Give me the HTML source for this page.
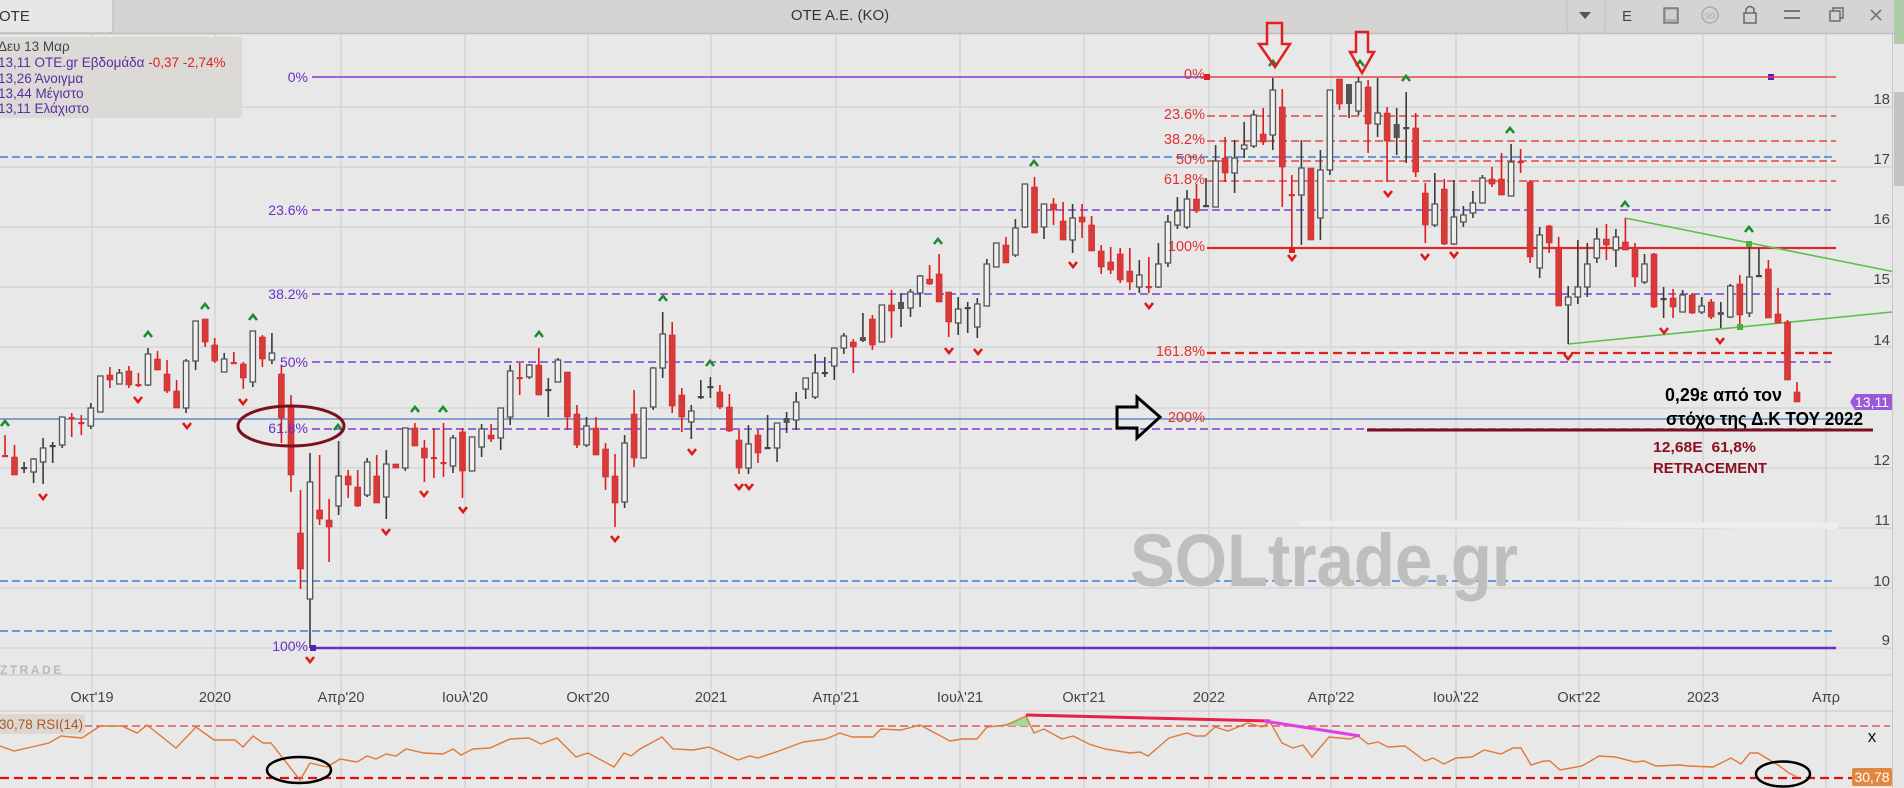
<!DOCTYPE html>
<html><head><meta charset="utf-8"><style>
html,body{margin:0;padding:0;background:#e8e8e8;overflow:hidden}
svg{display:block}
text{font-family:"Liberation Sans","Noto Sans CJK JP",sans-serif}
</style></head><body>
<svg width="1904" height="788" viewBox="0 0 1904 788" xmlns="http://www.w3.org/2000/svg">
<rect x="0" y="0" width="1904" height="788" fill="#e8e8e8"/>
<!-- vertical gridlines -->
<g stroke="#d6d6d6" stroke-width="1.5">
<line x1="92" y1="34" x2="92" y2="788"/><line x1="215" y1="34" x2="215" y2="788"/><line x1="341" y1="34" x2="341" y2="788"/><line x1="465" y1="34" x2="465" y2="788"/><line x1="588" y1="34" x2="588" y2="788"/><line x1="711" y1="34" x2="711" y2="788"/><line x1="836" y1="34" x2="836" y2="788"/><line x1="960" y1="34" x2="960" y2="788"/><line x1="1084" y1="34" x2="1084" y2="788"/><line x1="1209" y1="34" x2="1209" y2="788"/><line x1="1331" y1="34" x2="1331" y2="788"/><line x1="1456" y1="34" x2="1456" y2="788"/><line x1="1579" y1="34" x2="1579" y2="788"/><line x1="1703" y1="34" x2="1703" y2="788"/><line x1="1826" y1="34" x2="1826" y2="788"/>
</g>
<g stroke="#d6d6d6" stroke-width="1.5">
<line x1="0" y1="107" x2="1892" y2="107"/><line x1="0" y1="167" x2="1892" y2="167"/><line x1="0" y1="227" x2="1892" y2="227"/><line x1="0" y1="287" x2="1892" y2="287"/><line x1="0" y1="347" x2="1892" y2="347"/><line x1="0" y1="408" x2="1892" y2="408"/><line x1="0" y1="468" x2="1892" y2="468"/><line x1="0" y1="528" x2="1892" y2="528"/><line x1="0" y1="588" x2="1892" y2="588"/><line x1="0" y1="648" x2="1892" y2="648"/>
<line x1="0" y1="675" x2="1892" y2="675" stroke="#d0d0d0"/><line x1="0" y1="711" x2="1892" y2="711" stroke="#d0d0d0"/>
</g>
<!-- blue lines -->
<g stroke="#3f7fd6" stroke-width="1.5" stroke-dasharray="8,4" fill="none">
<line x1="0" y1="157" x2="1836" y2="157"/><line x1="0" y1="581" x2="1836" y2="581"/><line x1="0" y1="631" x2="1836" y2="631"/>
</g>
<line x1="0" y1="419" x2="1862" y2="419" stroke="#4a78b8" stroke-width="1.2"/>
<!-- purple fib -->
<g stroke="#7b3fd6" fill="none">
<line x1="312" y1="77" x2="1207" y2="77" stroke-width="1.6"/>
<g stroke-width="1.6" stroke-dasharray="8,4"><line x1="312" y1="210" x2="1831" y2="210"/><line x1="312" y1="294" x2="1831" y2="294"/><line x1="312" y1="362" x2="1831" y2="362"/><line x1="312" y1="429" x2="1831" y2="429"/></g>
<line x1="312" y1="648" x2="1836" y2="648" stroke-width="2.6" stroke="#6a2ac8"/>
</g>
<rect x="310" y="645" width="6" height="6" fill="#5a1ec0"/>
<rect x="1768" y="74" width="6" height="6" fill="#5a1ec0"/>
<!-- red fib -->
<g stroke="#e34545" fill="none">
<line x1="1207" y1="77" x2="1836" y2="77" stroke-width="1.6"/>
<g stroke-width="1.5" stroke-dasharray="8,4"><line x1="1207" y1="116" x2="1836" y2="116"/><line x1="1207" y1="141" x2="1836" y2="141"/><line x1="1207" y1="161" x2="1836" y2="161"/><line x1="1207" y1="181" x2="1836" y2="181"/></g>
<line x1="1207" y1="248" x2="1836" y2="248" stroke-width="2.2" stroke="#e02828"/>
<line x1="1207" y1="353" x2="1836" y2="353" stroke-width="2.2" stroke="#e02020" stroke-dasharray="9,5"/>
</g>
<rect x="1204" y="74" width="6" height="6" fill="#e02020"/>
<rect x="1289" y="247" width="6" height="6" fill="#e02020"/>
<!-- maroon line -->
<line x1="1367" y1="430" x2="1873" y2="430" stroke="#7a0f1f" stroke-width="3"/>
<!-- white band & watermark -->
<polygon points="1300,521 1500,521 1838,523 1838,529 1500,527 1300,526" fill="#eeeeee"/>
<text x="1130" y="586" font-size="74" font-weight="bold" fill="#bebebe" textLength="388" lengthAdjust="spacingAndGlyphs">SOLtrade.gr</text>
<text x="0" y="674" font-size="12" font-weight="bold" fill="#b9b9b9" letter-spacing="2.5">ZTRADE</text>
<!-- green trend lines -->
<line x1="1625" y1="218" x2="1892" y2="271.4" stroke="#5cbf4c" stroke-width="1.6"/>
<line x1="1568" y1="344" x2="1892" y2="312" stroke="#5cbf4c" stroke-width="1.6"/>
<g id="cd"></g>
<g id="mk"></g>
<rect x="1746" y="241" width="6" height="6" fill="#4caf3c"/>
<rect x="1737" y="324" width="6" height="6" fill="#4caf3c"/>
<!-- fib labels -->
<g font-size="14" fill="#6a30c8" text-anchor="end">
<text x="308" y="82">0%</text><text x="308" y="215">23.6%</text><text x="308" y="299">38.2%</text><text x="308" y="367">50%</text><text x="308" y="433">61.8%</text><text x="308" y="651">100%</text>
</g>
<g font-size="14.5" fill="#e03030" text-anchor="end">
<text x="1205" y="79">0%</text><text x="1205" y="119">23.6%</text><text x="1205" y="144">38.2%</text><text x="1205" y="164">50%</text><text x="1205" y="184">61.8%</text><text x="1205" y="251">100%</text><text x="1205" y="356">161.8%</text><text x="1205" y="422">200%</text>
</g>
<!-- annotations -->
<ellipse cx="291" cy="426" rx="53" ry="20" fill="none" stroke="#7a1020" stroke-width="3"/>
<polygon points="1117,407 1137,407 1137,397 1160,417 1137,438 1137,428 1117,428" fill="none" stroke="#000" stroke-width="3"/>
<text x="1665" y="401" font-size="18" font-weight="bold" fill="#000" textLength="117" lengthAdjust="spacingAndGlyphs">0,29ε από τον</text>
<text x="1666" y="425" font-size="18" font-weight="bold" fill="#000" textLength="197" lengthAdjust="spacingAndGlyphs">στόχο της Δ.Κ ΤΟΥ 2022</text>
<text x="1653" y="452" font-size="15" font-weight="bold" fill="#8b1020" textLength="103" lengthAdjust="spacingAndGlyphs">12,68E&#160; 61,8%</text>
<text x="1653" y="473" font-size="15" font-weight="bold" fill="#8b1020" textLength="114" lengthAdjust="spacingAndGlyphs">RETRACEMENT</text>
<!-- right axis labels -->
<g font-size="15" fill="#444" text-anchor="end">
<text x="1890" y="104">18</text><text x="1890" y="164">17</text><text x="1890" y="224">16</text><text x="1890" y="284">15</text><text x="1890" y="345">14</text><text x="1890" y="465">12</text><text x="1890" y="525">11</text><text x="1890" y="586">10</text><text x="1890" y="645">9</text>
</g>
<path d="M1850,402 L1855,394 L1892,394 L1892,410 L1855,410 Z" fill="#9a5ad8"/>
<text x="1872" y="407" font-size="14" fill="#fff" text-anchor="middle">13,11</text>
<!-- x axis labels -->
<g font-size="14.5" fill="#444" text-anchor="middle">
<text x="92" y="702">Οκτ'19</text><text x="215" y="702">2020</text><text x="341" y="702">Απρ'20</text><text x="465" y="702">Ιουλ'20</text><text x="588" y="702">Οκτ'20</text><text x="711" y="702">2021</text><text x="836" y="702">Απρ'21</text><text x="960" y="702">Ιουλ'21</text><text x="1084" y="702">Οκτ'21</text><text x="1209" y="702">2022</text><text x="1331" y="702">Απρ'22</text><text x="1456" y="702">Ιουλ'22</text><text x="1579" y="702">Οκτ'22</text><text x="1703" y="702">2023</text><text x="1826" y="702">Απρ</text>
</g>
<!-- RSI panel -->
<line x1="0" y1="726" x2="1890" y2="726" stroke="#d84040" stroke-width="1.2" stroke-dasharray="8,4"/>
<line x1="0" y1="778" x2="1852" y2="778" stroke="#e01010" stroke-width="2.2" stroke-dasharray="9,5"/>
<polygon points="1000,726 1026,716 1031,726" fill="#a6d6a0"/>
<polyline fill="none" stroke="#e07a35" stroke-width="1.4" points="0,746 14,751 49,743 61,736 82,738 100,726 122,726 137,733 147,725 176,748 196,727 214,740 235,740 243,747 253,736 263,743 271,743 300,780 310,763 327,767 340,759 357,762 367,756 376,759 386,754 396,756 406,749 424,753 443,754 453,749 461,755 473,749 490,748 510,739 529,738 541,744 557,738 576,757 588,753 614,767 624,753 631,756 640,749 662,737 673,749 693,750 709,747 738,760 750,756 758,758 779,751 803,742 826,739 840,733 852,737 873,737 881,729 901,730 920,725 950,741 962,739 977,739 987,727 1007,725 1026,716 1034,733 1044,729 1062,739 1073,736 1089,744 1105,749 1130,753 1140,752 1148,756 1169,738 1187,733 1195,736 1205,736 1215,727 1228,731 1248,723 1262,727 1270,722 1282,743 1293,748 1303,745 1312,757 1329,737 1350,739 1358,736 1368,744 1378,742 1388,747 1405,746 1425,761 1433,758 1444,764 1456,758 1472,757 1484,750 1501,754 1513,748 1521,748 1531,765 1544,761 1550,761 1560,770 1582,766 1599,756 1615,757 1635,762 1644,761 1656,766 1680,765 1688,766 1713,767 1731,758 1741,764 1750,753 1758,753 1778,765 1789,773 1797,777"/>
<line x1="1026" y1="715" x2="1270" y2="721" stroke="#e8204c" stroke-width="3"/>
<line x1="1264" y1="721" x2="1360" y2="736" stroke="#e040e0" stroke-width="3"/>
<ellipse cx="299" cy="770" rx="32" ry="13" fill="none" stroke="#000" stroke-width="2.5"/>
<ellipse cx="1783" cy="774" rx="27" ry="12.5" fill="none" stroke="#000" stroke-width="2.5"/>
<rect x="-4" y="714" width="89" height="20" rx="3" fill="#dcd7d0"/>
<text x="-1" y="729" font-size="13.5" fill="#b0562a">30,78 RSI(14)</text>
<text x="1872" y="742" font-size="17" fill="#111" text-anchor="middle">x</text>
<rect x="1852" y="768" width="40" height="18" rx="2" fill="#e08840"/>
<text x="1872" y="782" font-size="14" fill="#fff" text-anchor="middle">30,78</text>
<!-- scrollbar -->
<rect x="1892" y="34" width="12" height="754" fill="#e6e6e6"/>
<line x1="1892.5" y1="34" x2="1892.5" y2="788" stroke="#c6c6c6" stroke-width="1"/>
<rect x="1894" y="92" width="10" height="94" fill="#c3c3c3"/>
<!-- header -->
<rect x="0" y="0" width="1904" height="34" fill="#d5d4d2"/>
<line x1="0" y1="33.5" x2="1904" y2="33.5" stroke="#bdbdbd" stroke-width="1.5"/>
<path d="M-2,-1 L113,-1 L113,29 Q113,33 109,33 L-2,33 Z" fill="#e7e7e7" stroke="#b5b5b5" stroke-width="1"/>
<text x="-1" y="21" font-size="15" fill="#333">OTE</text>
<text x="840" y="20" font-size="15" fill="#333" text-anchor="middle">OTE A.E. (KO)</text>
<rect x="1567" y="-3" width="38" height="36" rx="3" fill="#d5d4d2" stroke="#c2c2c2"/>
<path d="M1579,12 L1591,12 L1585,19 Z" fill="#555"/>
<text x="1627" y="21" font-size="15" fill="#444" text-anchor="middle">E</text>
<rect x="1664" y="8" width="14" height="15" fill="#b0b0b0" stroke="#666" stroke-width="1.2"/>
<rect x="1666" y="10" width="10" height="9" fill="#cfcfcf"/>
<circle cx="1710" cy="15" r="8" fill="none" stroke="#aaa" stroke-width="1.5"/>
<text x="1710" y="19" font-size="9" fill="#aaa" text-anchor="middle">99</text>
<rect x="1744" y="13" width="12" height="10" fill="none" stroke="#666" stroke-width="1.5"/>
<path d="M1746,13 L1746,9 Q1750,4 1754,9 L1754,13" fill="none" stroke="#666" stroke-width="1.5"/>
<line x1="1784" y1="11" x2="1800" y2="11" stroke="#777" stroke-width="2"/>
<line x1="1784" y1="18" x2="1800" y2="18" stroke="#777" stroke-width="2"/>
<rect x="1830" y="11" width="10" height="10" fill="none" stroke="#666" stroke-width="1.4"/>
<path d="M1833,11 L1833,8 L1843,8 L1843,18 L1840,18" fill="none" stroke="#666" stroke-width="1.4"/>
<path d="M1871,10 L1881,20 M1881,10 L1871,20" stroke="#777" stroke-width="1.6"/>
<rect x="1894" y="0" width="10" height="44" fill="#aecaa6"/>
<!-- red arrows over header -->
<polygon points="1267,23 1282,23 1282,44 1290,44 1275,67 1259,44 1267,44" fill="none" stroke="#e02020" stroke-width="2.5"/>
<polygon points="1356,32 1368,32 1368,52 1374,52 1362,73 1350,52 1356,52" fill="none" stroke="#e02020" stroke-width="2.5"/>
<!-- tooltip -->
<path d="M-2,37 L238,37 Q242,37 242,41 L242,114 Q242,118 238,118 L-2,118 Z" fill="#dcdad6"/>
<g font-size="13.5">
<text x="-2" y="51" fill="#444">Δευ 13 Μαρ</text>
<text x="-2" y="67" fill="#5b2d9e">13,11 OTE.gr Εβδομάδα <tspan fill="#e02020">-0,37 -2,74%</tspan></text>
<text x="-2" y="83" fill="#5b2d9e">13,26 Άνοιγμα</text>
<text x="-2" y="98" fill="#5b2d9e">13,44 Μέγιστο</text>
<text x="-2" y="113" fill="#5b2d9e">13,11 Ελάχιστο</text>
</g>
</svg>
<script>
var D=[['r',455,457,435,457],['r',457,475,445,475],['d',467,469,462,473],['w',459,472,458,483],['w',448,462,438,484],['d',445,447,442,463],['w',417,445,417,448],['r',417,419,413,437],['r',422,424,415,435],['w',408,426,403,429],
['w',376,412,376,412],['r',375,380,367,388],['w',373,384,369,384],['r',371,385,366,388],['r',384,386,373,387],['w',354,385,348,386],['r',359,370,351,370],['r',374,391,360,393],['r',391,408,380,408],['w',361,408,359,413],
['w',321,361,321,370],['r',319,342,319,347],['r',345,361,338,363],['w',359,372,353,372],['r',362,364,352,364],['r',364,378,362,389],['w',331,382,331,387],['r',337,359,335,367],['w',353,360,333,364],['r',374,418,365,443],
['r',407,475,395,492],['r',533,569,490,589],['w',482,599,453,648],['r',510,519,455,525],['r',520,527,499,562],['w',476,506,441,515],['r',476,485,470,498],['r',487,506,470,507],['w',462,495,458,497],['r',476,503,455,503],
['w',464,497,450,519],['r',464,468,464,468],['w',428,468,428,471],['r',428,446,423,446],['r',448,458,440,482],['r',457,459,428,478],['r',462,464,423,477],['w',438,466,435,473],['r',432,471,428,498],['w',437,471,437,471],
['w',429,447,424,457],['r',435,439,424,442],['w',408,438,408,450],['w',371,417,365,425],['r',377,379,363,395],['w',365,377,364,379],['r',365,395,348,395],['d',389,391,378,417],['w',360,382,358,382],['r',372,417,372,430],
['r',414,445,405,448],['w',426,445,417,447],['r',428,455,417,455],['r',449,477,443,490],['r',476,503,454,527],['w',443,502,435,508],['r',414,458,390,467],['w',408,458,408,458],['w',368,407,367,410],['w',334,368,312,378],
['r',335,406,322,413],['r',395,417,388,432],['w',411,422,405,439],['d',396,398,380,399],['d',386,388,377,398],['r',392,407,385,409],['r',407,431,394,432],['r',440,468,430,474],['w',444,468,425,474],['r',435,453,430,463],
['d',447,449,415,449],['w',423,448,423,462],['d',418,423,412,433],['w',402,420,392,430],['w',378,389,378,399],['w',373,397,354,399],['d',372,374,357,377],['w',348,366,348,380],['w',336,348,333,354],['r',342,347,339,373],
['d',337,341,313,342],['r',319,345,315,350],['w',305,342,305,342],['r',305,311,290,338],['d',302,309,293,327],['w',292,308,289,317],['w',276,293,275,307],['r',279,284,265,285],['r',274,302,254,302],['r',292,322,292,337],
['w',309,323,297,335],['d',307,309,302,333],['w',304,327,298,338],['w',264,306,259,306],['w',243,267,243,267],['r',245,263,237,263],['w',228,255,219,257],['w',184,227,184,228],['r',187,233,177,233],['w',204,227,204,239],
['r',204,210,198,225],['r',221,240,202,240],['w',218,240,204,253],['r',217,222,204,238],['r',225,251,216,251],['r',251,267,245,274],['r',262,270,247,274],['r',254,280,248,283],['r',271,282,248,290],['w',275,287,260,293],
['r',286,288,257,293],['w',264,287,243,288],['w',222,263,215,267],['w',211,225,197,229],['w',199,227,190,229],['r',199,211,184,213],['d',205,207,178,207],['w',161,207,145,207],['r',158,173,137,182],['w',158,173,140,193],
['w',145,149,122,158],['w',115,146,110,148],['r',134,142,108,145],['w',90,135,78,150],['r',107,167,89,207],['r',194,196,175,250],['w',168,195,140,245],['r',168,240,168,240],['w',170,218,150,240],['w',90,170,90,175],
['r',79,104,79,110],['d',84,104,84,118],['w',82,111,77,115],['r',87,124,80,153],['w',113,124,78,137],['r',113,141,107,182],['d',124,138,108,155],['d',127,129,92,163],['r',128,172,113,177],['r',193,225,183,243],
['w',204,225,173,227],['r',189,244,179,245],['w',217,244,180,245],['w',215,222,206,227],['w',203,213,191,218],['w',178,203,175,203],['r',179,184,167,187],['r',179,195,153,195],['w',162,196,144,196],['r',161,163,149,173],
['r',182,257,180,263],['w',235,268,227,278],['r',226,243,225,253],['r',248,306,237,306],['w',297,305,286,344],['w',287,297,240,304],['w',264,287,243,297],['w',239,258,228,263],['r',239,245,224,260],['w',237,250,229,267],
['r',242,250,218,250],['r',248,277,243,287],['w',264,282,254,284],['r',254,307,253,308],['d',298,300,287,318],['r',298,307,289,318],['w',295,312,290,312],['r',295,313,293,314],['w',306,312,297,314],['r',302,317,299,319],
['d',312,315,302,328],['w',286,317,284,318],['r',284,315,275,327],['w',277,313,244,317],['d',275,277,248,277],['r',269,318,260,318],['r',314,323,288,323],['r',322,380,320,380],['r',392,402,382,402]];
var s='';
for(var i=0;i<D.length;i++){var c=D[i],x=(5+i*9.532).toFixed(1),t=c[0];
var wc=t==='r'?'#e01a1a':'#3a3a3a';
s+='<line x1="'+x+'" y1="'+c[3]+'" x2="'+x+'" y2="'+c[4]+'" stroke="'+wc+'" stroke-width="1.6"/>';
var h=c[2]-c[1],xl=(x-3).toFixed(1);
if(h<3){s+='<rect x="'+xl+'" y="'+c[1]+'" width="6" height="2.2" fill="'+(t==='r'?'#d83030':'#444')+'"/>';}
else if(t==='r'){s+='<rect x="'+xl+'" y="'+c[1]+'" width="6" height="'+h+'" fill="#d83a3a" stroke="#d02828" stroke-width="0.6"/>';}
else if(t==='w'){s+='<rect x="'+(x-2.7).toFixed(1)+'" y="'+c[1]+'" width="5.4" height="'+h+'" fill="#f0f0f0" stroke="#555" stroke-width="1.3"/>';}
else{s+='<rect x="'+xl+'" y="'+c[1]+'" width="6" height="'+h+'" fill="#555"/>';}}
document.getElementById('cd').innerHTML=s;
var G=[[5,423],[148,334],[205,306],[253,317],[338,427],[415,409],[443,409],[539,334],[663,298],[710,363],[938,241],[1034,163],[1273,63],[1360,63],[1406,78],[1510,130],[1625,204],[1749,229]];
var R=[[43,497],[138,400],[187,426],[243,402],[310,660],[386,532],[424,494],[463,510],[615,539],[692,452],[739,487],[749,487],[949,351],[978,352],[1073,265],[1149,306],[1292,258],[1388,194],[1425,257],[1454,255],[1568,357],[1664,331],[1720,341]];
var m='';
G.forEach(function(p){m+='<path d="M'+(p[0]-4)+','+(p[1]+3)+' L'+p[0]+','+(p[1]-2)+' L'+(p[0]+4)+','+(p[1]+3)+'" fill="none" stroke="#1b8c2c" stroke-width="2.6"/>';});
R.forEach(function(p){m+='<path d="M'+(p[0]-4)+','+(p[1]-3)+' L'+p[0]+','+(p[1]+2)+' L'+(p[0]+4)+','+(p[1]-3)+'" fill="none" stroke="#e01818" stroke-width="2.6"/>';});
document.getElementById('mk').innerHTML=m;
</script>
</body></html>
